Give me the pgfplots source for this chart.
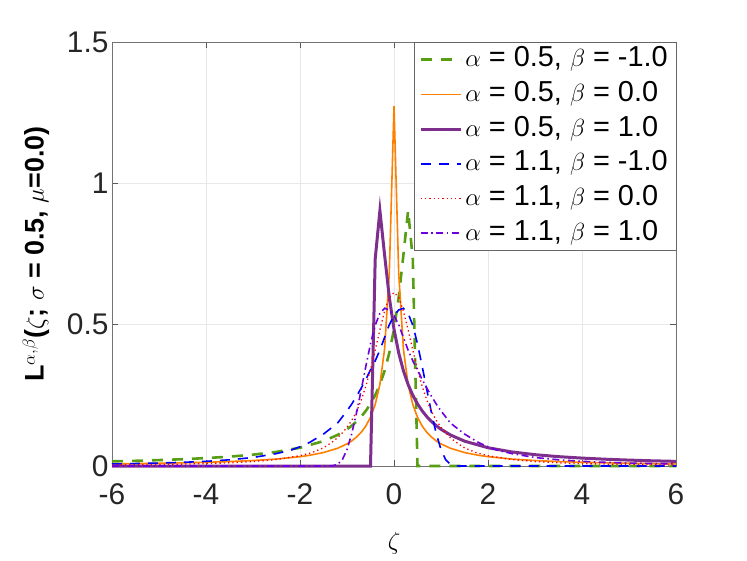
\documentclass[border=0pt]{standalone}
\usepackage{pgfplots}
\pgfplotsset{compat=1.18}
\usepackage{fontspec}
\setmainfont{Liberation Sans}
\definecolor{cgreen}{RGB}{88,158,20}
\definecolor{corange}{RGB}{255,128,0}
\definecolor{cpurple}{RGB}{126,47,142}
\definecolor{cblue}{RGB}{0,0,255}
\definecolor{cred}{RGB}{255,0,0}
\definecolor{cviolet}{RGB}{110,0,220}
\begin{document}
\begin{tikzpicture}
\begin{axis}[name=ax, scale only axis, width=564bp, height=424bp,
  xmin=-6, xmax=6, ymin=0, ymax=1.5,
  xtick={-6,-4,-2,0,2,4,6}, xticklabels={-6,-4,-2,0,2,4,6},
  ytick={0,0.5,1,1.5}, yticklabels={0,0.5,1,1.5},
  grid=major, major grid style={color=black!9, line width=0.6bp},
  axis line style={color=black!55, line width=0.8bp},
  tick style={color=black!65, line width=0.8bp},
  major tick length=6bp, tick align=inside,
  ticklabel style={font=\fontsize{30}{34}\selectfont, color=black!85},
  xticklabel style={yshift=-14bp},
  /pgf/number format/assume math mode=true,
  clip=false,
  xlabel={$\zeta$},
  xlabel style={font=\fontsize{32}{36}\selectfont, at={(axis description cs:0.5,0)}, anchor=center, yshift=-77bp},
  ylabel={\bfseries L$^{\alpha,\beta}$($\zeta$; $\sigma$ = 0.5, $\mu$=0.0)},
  ylabel style={font=\fontsize{27}{31}\selectfont, at={(axis description cs:0,0.5)}, anchor=center, yshift=76bp},
  legend style={name=leg, at={(1,1)}, anchor=north east, font=\fontsize{29}{33}\selectfont,
    draw=none, text=black, inner xsep=5bp, inner ysep=4.5bp,
    row sep=8.7bp, fill=white,
    nodes={inner xsep=3bp, inner ysep=0bp, text height=20bp, text depth=6bp}},
  legend cell align=left,
  legend image code/.code={\begin{scope}[#1]\draw (0bp,0bp) -- (40bp,0bp);\end{scope}},
]
% alpha=0.5, beta=-1
\addplot[color=cgreen, line width=2.6bp, dash pattern=on 11bp off 9bp] coordinates {
(-6,0.0164) (-5.5,0.0184) (-5,0.0209) (-4.5,0.0240) (-4,0.0280) (-3.5,0.0331)
(-3,0.0401) (-2.5,0.0500) (-2,0.0646) (-1.5,0.0880) (-1.2,0.1099) (-1.0,0.1300)
(-0.9,0.1425) (-0.8,0.1570) (-0.7,0.1742) (-0.6,0.1948) (-0.5,0.2197) (-0.4,0.2503)
(-0.3,0.2884) (-0.2,0.3370) (-0.1,0.4001) (0,0.4839) (0.1,0.5968) (0.2,0.7461)
(0.3,0.9036) (0.4,0.7322) (0.5,0) (6,0)};
\addlegendentry{$\alpha$ = 0.5, $\beta$ = -1.0}
% alpha=0.5, beta=0
\addplot[color=corange, line width=1.6bp] coordinates {
(-6,0.0076) (-5.5,0.0086) (-5,0.0097) (-4.5,0.0113) (-4,0.0132) (-3.5,0.0158)
(-3,0.0194) (-2.5,0.0247) (-2,0.0330) (-1.8,0.0378) (-1.5,0.0476) (-1.2,0.0628)
(-1.0,0.0783) (-0.9,0.0887) (-0.8,0.1019) (-0.7,0.1188) (-0.6,0.1412) (-0.5,0.1722)
(-0.4,0.2175) (-0.3,0.2887) (-0.2,0.4143) (-0.1,0.682) (0,1.273)
(0.1,0.682) (0.2,0.4143) (0.3,0.2887) (0.4,0.2175) (0.5,0.1722) (0.6,0.1412)
(0.7,0.1188) (0.8,0.1019) (0.9,0.0887) (1.0,0.0783) (1.2,0.0628) (1.5,0.0476)
(1.8,0.0378) (2,0.0330) (2.5,0.0247) (3,0.0194) (3.5,0.0158) (4,0.0132)
(4.5,0.0113) (5,0.0097) (5.5,0.0086) (6,0.0076)};
\addlegendentry{$\alpha$ = 0.5, $\beta$ = 0.0}
% alpha=0.5, beta=1
\addplot[color=cpurple, line width=3bp] coordinates {
(-6,0) (-0.5,0) (-0.4,0.7322) (-0.3,0.9036) (-0.2,0.7461) (-0.1,0.5968)
(0,0.4839) (0.1,0.4001) (0.2,0.3370) (0.3,0.2884) (0.4,0.2503) (0.5,0.2197)
(0.6,0.1948) (0.7,0.1742) (0.8,0.1570) (0.9,0.1425) (1.0,0.1300) (1.2,0.1099)
(1.5,0.0880) (2,0.0646) (2.5,0.0500) (3,0.0401) (3.5,0.0331) (4,0.0280)
(4.5,0.0240) (5,0.0209) (5.5,0.0184) (6,0.0164)};
\addlegendentry{$\alpha$ = 0.5, $\beta$ = 1.0}
% alpha=1.1, beta=-1
\addplot[color=cblue, line width=1.6bp, dash pattern=on 10bp off 8bp] coordinates {
(-6,0.0073) (-5.5,0.0087) (-5,0.0105) (-4.5,0.0130) (-4,0.0165) (-3.5,0.0220)
(-3,0.0300) (-2.5,0.0440) (-2.2,0.0560) (-2.0,0.0680) (-1.8,0.0830) (-1.5,0.1130)
(-1.2,0.1520) (-1.0,0.1950) (-0.9,0.2190) (-0.8,0.2460) (-0.7,0.2750) (-0.6,0.3060)
(-0.5,0.3400) (-0.4,0.3720) (-0.3,0.4100) (-0.2,0.4550) (-0.1,0.5000) (0,0.5320)
(0.1,0.5520) (0.2,0.5580) (0.3,0.5400) (0.4,0.4980) (0.5,0.4320) (0.6,0.3520)
(0.7,0.2680) (0.8,0.1860) (0.9,0.1140) (1.0,0.0580) (1.1,0.0220) (1.2,0.0060)
(1.3,0.0010) (1.4,0) (6,0)};
\addlegendentry{$\alpha$ = 1.1, $\beta$ = -1.0}
% alpha=1.1, beta=0
\addplot[color=cred, line width=1.3bp, dash pattern=on 1.3bp off 3bp] coordinates {
(-6,0.0036) (-5.5,0.0044) (-5,0.0053) (-4.5,0.0067) (-4,0.0086) (-3.5,0.0113)
(-3,0.0157) (-2.5,0.0230) (-2,0.0365) (-1.75,0.0471) (-1.5,0.0644) (-1.4,0.075)
(-1.3,0.087) (-1.2,0.100) (-1.1,0.117) (-1.0,0.137) (-0.9,0.161) (-0.8,0.192)
(-0.7,0.232) (-0.6,0.282) (-0.5,0.342) (-0.4,0.410) (-0.3,0.482) (-0.2,0.548)
(-0.1,0.597) (0,0.614) (0.1,0.597) (0.2,0.548) (0.3,0.482) (0.4,0.410)
(0.5,0.342) (0.6,0.282) (0.7,0.232) (0.8,0.192) (0.9,0.161) (1.0,0.137)
(1.1,0.117) (1.2,0.100) (1.3,0.087) (1.4,0.075) (1.5,0.0644) (1.75,0.0471)
(2,0.0365) (2.5,0.0230) (3,0.0157) (3.5,0.0113) (4,0.0086) (4.5,0.0067)
(5,0.0053) (5.5,0.0044) (6,0.0036)};
\addlegendentry{$\alpha$ = 1.1, $\beta$ = 0.0}
% alpha=1.1, beta=1
\addplot[color=cviolet, line width=1.6bp, dash pattern=on 7bp off 3.5bp on 1.5bp off 3.5bp] coordinates {
(-6,0) (-1.4,0) (-1.3,0.0010) (-1.2,0.0060) (-1.1,0.0220) (-1.0,0.0580)
(-0.9,0.1140) (-0.8,0.1860) (-0.7,0.2680) (-0.6,0.3520) (-0.5,0.4320) (-0.4,0.4980)
(-0.3,0.5400) (-0.2,0.5580) (-0.1,0.5520) (0,0.5320) (0.1,0.5000) (0.2,0.4550)
(0.3,0.4100) (0.4,0.3720) (0.5,0.3400) (0.6,0.3060) (0.7,0.2750) (0.8,0.2460)
(0.9,0.2190) (1.0,0.1950) (1.2,0.1520) (1.5,0.1130) (1.8,0.0830) (2.0,0.0680)
(2.2,0.0560) (2.5,0.0440) (3,0.0300) (3.5,0.0220) (4,0.0165) (4.5,0.0130)
(5,0.0105) (5.5,0.0087) (6,0.0073)};
\addlegendentry{$\alpha$ = 1.1, $\beta$ = 1.0}
\end{axis}
\draw[black!60, line width=0.8bp] (leg.south west) rectangle (leg.north east);
\path ([xshift=-112bp,yshift=-94bp]ax.south west) rectangle ([xshift=71bp,yshift=42bp]ax.north east);
\end{tikzpicture}
\end{document}
